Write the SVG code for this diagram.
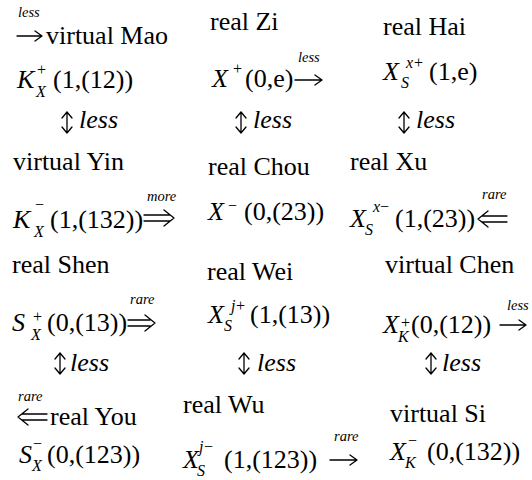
<svg xmlns="http://www.w3.org/2000/svg" width="532" height="480" viewBox="0 0 532 480">
<style>
.t{font-family:Liberation Serif,DejaVu Serif,serif;font-size:26px;fill:#000}
.it{font-style:italic}
.sc{font-size:16px}
.lb{font-size:14.5px;font-style:italic}
.ar{fill:none;stroke:#000;stroke-width:1.3;stroke-linecap:round;stroke-linejoin:round}
</style>
<rect width="532" height="480" fill="#fff"/>
<g class="t" font-family="Liberation Serif, DejaVu Serif, serif">
<g id="mao">
<text x="46" y="44">virtual Mao</text>
<text class="it" x="17" y="88">K</text>
<text class="sc" x="37" y="75">+</text>
<text class="sc it" x="36" y="97">X</text>
<text x="53" y="88">(1,(12))</text>
</g>
<g id="zi">
<text x="210" y="30">real Zi</text>
<text class="it" x="212" y="87">X</text>
<text class="sc" x="233" y="74">+</text>
<text x="245" y="87">(0,e)</text>
</g>
<g id="hai">
<text x="383" y="35">real Hai</text>
<text class="it" x="383" y="80">X</text>
<text class="sc it" x="406" y="68">x</text>
<text class="sc" x="414" y="68">+</text>
<text class="sc it" x="401" y="88">S</text>
<text x="429" y="80">(1,e)</text>
</g>
<g id="yin">
<text x="13" y="170">virtual Yin</text>
<text class="it" x="13" y="228">K</text>
<text class="sc" x="35" y="210">−</text>
<text class="sc it" x="34" y="237">X</text>
<text x="50" y="228">(1,(132))</text>
</g>
<g id="chou">
<text x="208" y="175">real Chou</text>
<text class="it" x="208" y="220">X</text>
<text class="sc" x="228" y="211">−</text>
<text x="244" y="220">(0,(23))</text>
</g>
<g id="xu">
<text x="350" y="170">real Xu</text>
<text class="it" x="350" y="227">X</text>
<text class="sc it" x="365" y="235">S</text>
<text class="sc it" x="373" y="212">x</text>
<text class="sc" x="380" y="212">−</text>
<text x="395" y="227">(1,(23))</text>
</g>
<g id="shen">
<text x="12" y="273">real Shen</text>
<text class="it" x="12" y="331">S</text>
<text class="sc" x="33" y="322">+</text>
<text class="sc it" x="31" y="340">X</text>
<text x="47" y="331">(0,(13))</text>
</g>
<g id="wei">
<text x="207" y="280">real Wei</text>
<text class="it" x="208" y="323">X</text>
<text class="sc it" x="224" y="331">S</text>
<text class="sc it" x="231" y="311">j</text>
<text class="sc" x="236" y="311">+</text>
<text x="250" y="323">(1,(13))</text>
</g>
<g id="chen">
<text x="385" y="273">virtual Chen</text>
<text class="it" x="383" y="333">X</text>
<text class="sc it" x="398" y="342">K</text>
<text class="sc" x="401" y="328">+</text>
<text x="411" y="333">(0,(12))</text>
</g>
<g id="you">
<text x="50" y="425">real You</text>
<text class="it" x="19" y="463">S</text>
<text class="sc" x="33" y="449">−</text>
<text class="sc it" x="32" y="471">X</text>
<text x="47" y="463">(0,(123))</text>
</g>
<g id="wu">
<text x="183" y="413">real Wu</text>
<text class="it" x="183" y="468">X</text>
<text class="sc it" x="197" y="476">S</text>
<text class="sc it" x="199" y="452">j</text>
<text class="sc" x="204" y="452">−</text>
<text x="224" y="468">(1,(123))</text>
</g>
<g id="si">
<text x="390" y="422">virtual Si</text>
<text class="it" x="390" y="460">X</text>
<text class="sc it" x="405" y="468">K</text>
<text class="sc" x="408" y="446">−</text>
<text x="427" y="460">(0,(132))</text>
</g>
<g id="connectors">
<path class="ar" d="M17 36H42M35 31L42 36L35 41"/>
<text class="lb" x="18" y="17">less</text>
<path class="ar" d="M295 80H322M315 75L322 80L315 85"/>
<text class="lb" x="298" y="62">less</text>
<path class="ar" d="M144 215H170M144 221H170M164 210L174 218L164 226"/>
<text class="lb" x="147" y="201">more</text>
<path class="ar" d="M482 216H507M482 222H507M488 211L478 219L488 227"/>
<text class="lb" x="482" y="199">rare</text>
<path class="ar" d="M128 320H150M128 326H150M145 315L155 323L145 331"/>
<text class="lb" x="130" y="304">rare</text>
<path class="ar" d="M500 325H526M519 320L526 325L519 330"/>
<text class="lb" x="507" y="310">less</text>
<path class="ar" d="M22 414H47M22 420H47M28 409L18 417L28 425"/>
<text class="lb" x="18" y="401">rare</text>
<path class="ar" d="M330 460H357M350 455L357 460L350 465"/>
<text class="lb" x="334" y="441">rare</text>
<path class="ar" d="M67 112V133M62 118L67 112L72 118M62 127L67 133L72 127"/>
<text class="it" x="79" y="128">less</text>
<path class="ar" d="M241 112V133M236 118L241 112L246 118M236 127L241 133L246 127"/>
<text class="it" x="253" y="128">less</text>
<path class="ar" d="M404 112V133M399 118L404 112L409 118M399 127L404 133L409 127"/>
<text class="it" x="416" y="128">less</text>
<path class="ar" d="M60 353V374M55 359L60 353L65 359M55 368L60 374L65 368"/>
<text class="it" x="70" y="371">less</text>
<path class="ar" d="M244 353V374M239 359L244 353L249 359M239 368L244 374L249 368"/>
<text class="it" x="257" y="371">less</text>
<path class="ar" d="M431 353V374M426 359L431 353L436 359M426 368L431 374L436 368"/>
<text class="it" x="442" y="371">less</text>
</g>
</g>
</svg>
